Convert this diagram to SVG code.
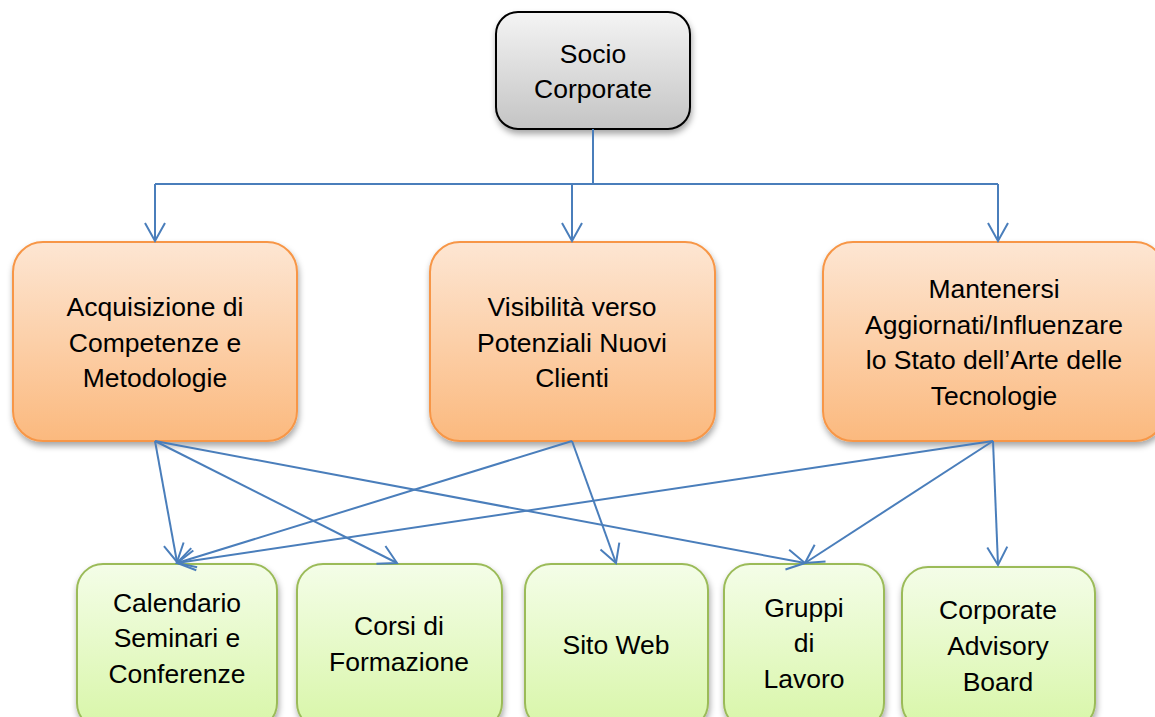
<svg xmlns="http://www.w3.org/2000/svg" width="1155" height="717" viewBox="0 0 1155 717">
<defs>
<linearGradient id="gGrey" x1="0" y1="0" x2="0" y2="1">
<stop offset="0" stop-color="#f4f4f4"/><stop offset="1" stop-color="#c4c4c4"/>
</linearGradient>
<linearGradient id="gOrange" x1="0" y1="0" x2="0" y2="1">
<stop offset="0" stop-color="#fde6d3"/><stop offset="1" stop-color="#fbb97e"/>
</linearGradient>
<linearGradient id="gGreen" x1="0" y1="0" x2="0" y2="1">
<stop offset="0" stop-color="#f4fde8"/><stop offset="1" stop-color="#d8f6a8"/>
</linearGradient>
<filter id="shadow" x="-10%" y="-10%" width="125%" height="130%">
<feDropShadow dx="1" dy="4" stdDeviation="3" flood-color="#000" flood-opacity="0.35"/>
</filter>
<marker id="arr" markerUnits="userSpaceOnUse" markerWidth="24" markerHeight="24" viewBox="0 0 24 24" refX="21" refY="12" orient="auto">
<path d="M3,2 L21,12 L3,22" fill="none" stroke="#4a7ebb" stroke-width="2"/>
</marker>
</defs>
<style>
.grey{fill:url(#gGrey);stroke:#000;stroke-width:2;filter:url(#shadow)}
.orange{fill:url(#gOrange);stroke:#f79646;stroke-width:2;filter:url(#shadow)}
.green{fill:url(#gGreen);stroke:#9bbb59;stroke-width:2;filter:url(#shadow)}
.t{font-family:"Liberation Sans",Arial,sans-serif;font-size:26.5px;fill:#000;text-anchor:middle}
.c{fill:none;stroke:#4a7ebb;stroke-width:2}
.a{marker-end:url(#arr)}
</style>
<rect width="1155" height="717" fill="#fff"/>

<g id="socio">
<rect class="grey" x="496" y="12" width="194" height="117" rx="22"/>
<text class="t" x="593" y="63">Socio</text>
<text class="t" x="593" y="98">Corporate</text>
</g>

<g id="acquisizione">
<rect class="orange" x="13" y="242" width="284" height="199" rx="30"/>
<text class="t" x="155" y="316">Acquisizione di</text>
<text class="t" x="155" y="352">Competenze e</text>
<text class="t" x="155" y="387">Metodologie</text>
</g>

<g id="visibilita">
<rect class="orange" x="430" y="242" width="285" height="199" rx="30"/>
<text class="t" x="572" y="316">Visibilità verso</text>
<text class="t" x="572" y="352">Potenziali Nuovi</text>
<text class="t" x="572" y="387">Clienti</text>
</g>

<g id="mantenersi">
<rect class="orange" x="823" y="242" width="342" height="199" rx="30"/>
<text class="t" x="994" y="298">Mantenersi</text>
<text class="t" x="994" y="334">Aggiornati/Influenzare</text>
<text class="t" x="994" y="369">lo Stato dell’Arte delle</text>
<text class="t" x="994" y="405">Tecnologie</text>
</g>

<g id="calendario">
<rect class="green" x="77" y="564" width="200" height="165" rx="26"/>
<text class="t" x="177" y="612">Calendario</text>
<text class="t" x="177" y="647">Seminari e</text>
<text class="t" x="177" y="683">Conferenze</text>
</g>

<g id="corsi">
<rect class="green" x="297" y="564" width="205" height="165" rx="26"/>
<text class="t" x="399" y="635">Corsi di</text>
<text class="t" x="399" y="671">Formazione</text>
</g>

<g id="sitoweb">
<rect class="green" x="525" y="564" width="183" height="165" rx="26"/>
<text class="t" x="616" y="654">Sito Web</text>
</g>

<g id="gruppi">
<rect class="green" x="724" y="564" width="160" height="165" rx="26"/>
<text class="t" x="804" y="617">Gruppi</text>
<text class="t" x="804" y="652">di</text>
<text class="t" x="804" y="688">Lavoro</text>
</g>

<g id="advisory">
<rect class="green" x="902" y="567" width="193" height="162" rx="26"/>
<text class="t" x="998" y="619">Corporate</text>
<text class="t" x="998" y="655">Advisory</text>
<text class="t" x="998" y="691">Board</text>
</g>

<g id="connectors">
<path class="c" d="M593,129 V184 M155,184 H998"/>
<path class="c a" d="M155,184 V241"/>
<path class="c a" d="M572,184 V241"/>
<path class="c a" d="M998,184 V241"/>
<path class="c a" d="M155,441 L177,562"/>
<path class="c a" d="M155,441 L397,563"/>
<path class="c a" d="M155,441 L805,563"/>
<path class="c a" d="M572,441 L177,563"/>
<path class="c a" d="M572,441 L616,563"/>
<path class="c a" d="M993,441 L177,563"/>
<path class="c a" d="M993,441 L805,563"/>
<path class="c a" d="M993,441 L998,565"/>
</g>
</svg>
